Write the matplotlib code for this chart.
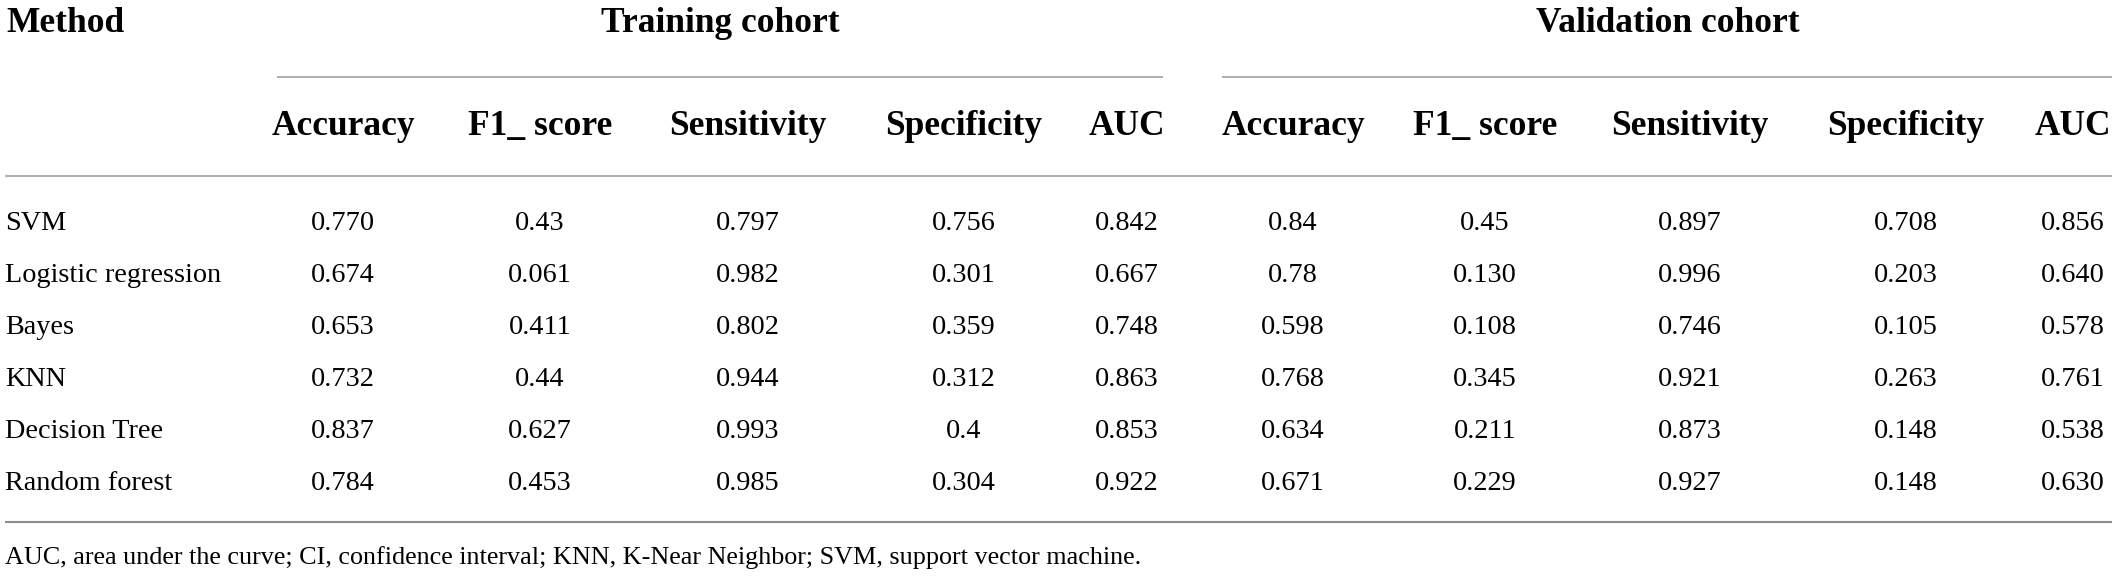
import matplotlib
matplotlib.use("Agg")
import matplotlib.pyplot as plt

plt.rcParams['font.family'] = ['Liberation Serif', 'DejaVu Serif']

methods = ["SVM", "Logistic regression", "Bayes", "KNN", "Decision Tree", "Random forest"]
metrics = ["Accuracy", "F1_ score", "Sensitivity", "Specificity", "AUC"]
cohorts = ["Training cohort", "Validation cohort"]

training = [
    ["0.770", "0.43", "0.797", "0.756", "0.842"],
    ["0.674", "0.061", "0.982", "0.301", "0.667"],
    ["0.653", "0.411", "0.802", "0.359", "0.748"],
    ["0.732", "0.44", "0.944", "0.312", "0.863"],
    ["0.837", "0.627", "0.993", "0.4", "0.853"],
    ["0.784", "0.453", "0.985", "0.304", "0.922"],
]
validation = [
    ["0.84", "0.45", "0.897", "0.708", "0.856"],
    ["0.78", "0.130", "0.996", "0.203", "0.640"],
    ["0.598", "0.108", "0.746", "0.105", "0.578"],
    ["0.768", "0.345", "0.921", "0.263", "0.761"],
    ["0.634", "0.211", "0.873", "0.148", "0.538"],
    ["0.671", "0.229", "0.927", "0.148", "0.630"],
]
footnote = "AUC, area under the curve; CI, confidence interval; KNN, K-Near Neighbor; SVM, support vector machine."

W, H = 2117, 577
fig = plt.figure(figsize=(W / 100, H / 100), dpi=100)
ax = fig.add_axes([0, 0, 1, 1])
ax.set_xlim(0, W)
ax.set_ylim(H, 0)
ax.axis("off")

body_fs = 20.3
head_fs = 25.5
line_col = "#a8a8a8"

col_x = [[343, 540, 748, 964, 1127], [1293, 1485, 1690, 1906, 2073]]
cohort_x = [720, 1668]
cohort_lines = [(277, 1163), (1222, 2112)]
row_base0, row_step = 230, 52

# Titles
ax.text(6, 32, "Method", fontsize=head_fs, fontweight="bold", ha="left", va="baseline")
for c, name in enumerate(cohorts):
    ax.text(cohort_x[c], 32, name, fontsize=head_fs, fontweight="bold", ha="center", va="baseline")
    ax.plot(cohort_lines[c], [77, 77], color=line_col, lw=1.3, solid_capstyle="butt")
    for j, m in enumerate(metrics):
        ax.text(col_x[c][j], 135, m, fontsize=head_fs, fontweight="bold", ha="center", va="baseline")

ax.plot([5, 2112], [176, 176], color=line_col, lw=1.3, solid_capstyle="butt")

for i, m in enumerate(methods):
    yb = row_base0 + i * row_step
    ax.text(5, yb, m, fontsize=body_fs, ha="left", va="baseline")
    for c, data in enumerate([training, validation]):
        for j, v in enumerate(data[i]):
            ax.text(col_x[c][j], yb, v, fontsize=body_fs, ha="center", va="baseline")

ax.plot([5, 2112], [522, 522], color="#8c8c8c", lw=1.5, solid_capstyle="butt")
ax.text(5, 564, footnote, fontsize=18.8, ha="left", va="baseline")

fig.savefig("out.png", dpi=100)
